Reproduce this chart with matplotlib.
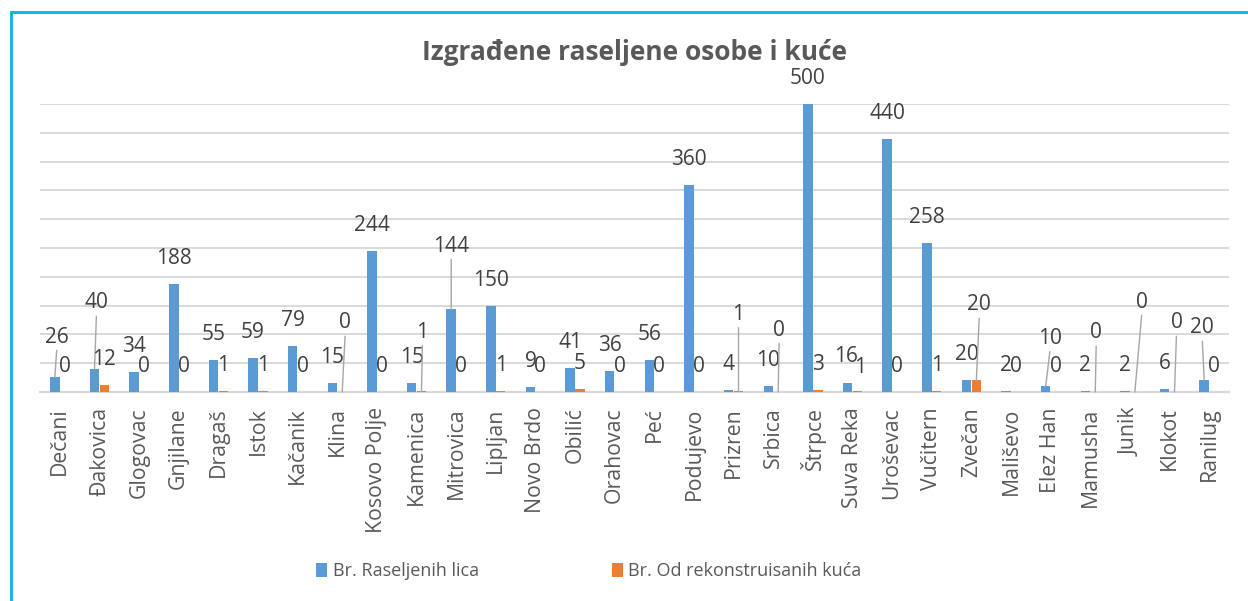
import matplotlib
matplotlib.use("Agg")
import matplotlib.pyplot as plt
from matplotlib.patches import Rectangle, Patch
import numpy as np

plt.rcParams['font.family'] = ['Open Sans', 'DejaVu Sans']

categories = ["Dečani", "Đakovica", "Glogovac", "Gnjilane", "Dragaš", "Istok", "Kačanik",
              "Klina", "Kosovo Polje", "Kamenica", "Mitrovica", "Lipljan", "Novo Brdo",
              "Obilić", "Orahovac", "Peć", "Podujevo", "Prizren", "Srbica", "Štrpce",
              "Suva Reka", "Uroševac", "Vučitern", "Zvečan", "Mališevo", "Elez Han",
              "Mamusha", "Junik", "Klokot", "Ranilug"]
raseljeni = [26, 40, 34, 188, 55, 59, 79, 15, 244, 15, 144, 150, 9, 41, 36, 56, 360, 4, 10,
             500, 16, 440, 258, 20, 2, 10, 2, 2, 6, 20]
kuce = [0, 12, 0, 0, 1, 1, 0, 0, 0, 1, 0, 1, 0, 5, 0, 0, 0, 1, 0, 3, 1, 0, 1, 20, 0, 0, 0,
        0, 0, 0]
series_names = ["Br. Raseljenih lica", "Br. Od rekonstruisanih kuća"]
title = "Izgrađene raseljene osobe i kuće"

# layout: label shifts (pixels: dx, dy above bar top); leader lines for moved labels
DEFAULT_SHIFT = (0, 25.5)
blue_shift = {0: (2, 40), 1: (2, 66), 10: (0, 63), 20: (-1.5, 26), 25: (4.5, 48),
              29: (-2, 52.5)}
orange_shift = {7: (3, 69), 9: (1, 59), 17: (0, 77), 18: (1, 62), 20: (3, 24),
                23: (3, 75.5), 26: (1, 59), 27: (7, 90), 28: (2, 69)}
blue_leader = {0, 1, 10, 25, 29}
orange_leader = {7, 9, 17, 18, 23, 26, 27, 28}

BLUE = "#5B9BD5"
ORANGE = "#ED7D31"
GRID = "#D9D9D9"
LABEL_C = "#404040"
TEXT_C = "#595959"

W, H = 1248, 601
fig = plt.figure(figsize=(W / 100, H / 100), dpi=100)
fig.patch.set_facecolor("white")

# frame
fig.patches.append(Rectangle((11 / W, -0.1), 1.2, 1 - 12 / H + 0.1, transform=fig.transFigure,
                             fill=False, edgecolor="#00B0F0", linewidth=2, zorder=0))

ax = fig.add_axes([40 / W, 1 - 392 / H, (1229 - 40) / W, (392 - 104) / H])
x = np.arange(len(categories))
bw = 0.24
off = 0.125
ax.bar(x - off, raseljeni, bw, color=BLUE, zorder=3)
ax.bar(x + off, kuce, bw, color=ORANGE, zorder=3)

ax.set_xlim(-0.5, len(categories) - 0.5)
ax.set_ylim(0, 500)
ax.set_yticks(np.arange(0, 501, 50))
ax.yaxis.grid(True, color=GRID, linewidth=1.4, zorder=0)
ax.tick_params(axis='y', left=False, labelleft=False)
for s in ["left", "right", "top"]:
    ax.spines[s].set_visible(False)
ax.spines["bottom"].set_color(GRID)
ax.spines["bottom"].set_linewidth(1.6)
ax.set_xticks(x)
ax.set_xticklabels(categories, rotation=90, fontsize=15.3, color=TEXT_C)
ax.tick_params(axis='x', length=0, pad=11)

PX = 0.72  # points per pixel at 100 dpi


def label(xpos, val, shift, leader):
    dx, dy = shift
    props = None
    if leader:
        props = dict(arrowstyle='-', color="#A6A6A6", lw=1.0, shrinkA=0, shrinkB=0,
                     relpos=(0.5, 0.0))
    ax.annotate(str(val), xy=(xpos, val), xytext=(dx * PX, dy * PX),
                textcoords='offset points', ha='center', va='center', fontsize=15,
                color=LABEL_C, arrowprops=props, annotation_clip=False, zorder=5)


for i in range(len(categories)):
    label(x[i] - off, raseljeni[i], blue_shift.get(i, DEFAULT_SHIFT), i in blue_leader)
    label(x[i] + off, kuce[i], orange_shift.get(i, DEFAULT_SHIFT), i in orange_leader)

fig.text(634.5 / W, 1 - 53 / H, title, ha='center', va='center', fontsize=19,
         fontweight='bold', color=TEXT_C)

handles = [Patch(facecolor=BLUE), Patch(facecolor=ORANGE)]
fig.legend(handles, series_names, loc='center', bbox_to_anchor=(589 / W, 1 - 571 / H),
           ncol=2, frameon=False, fontsize=13, handlelength=0.6, handleheight=0.8,
           handletextpad=0.3, columnspacing=7.4, labelcolor=TEXT_C)

fig.savefig("out.png", dpi=100)
